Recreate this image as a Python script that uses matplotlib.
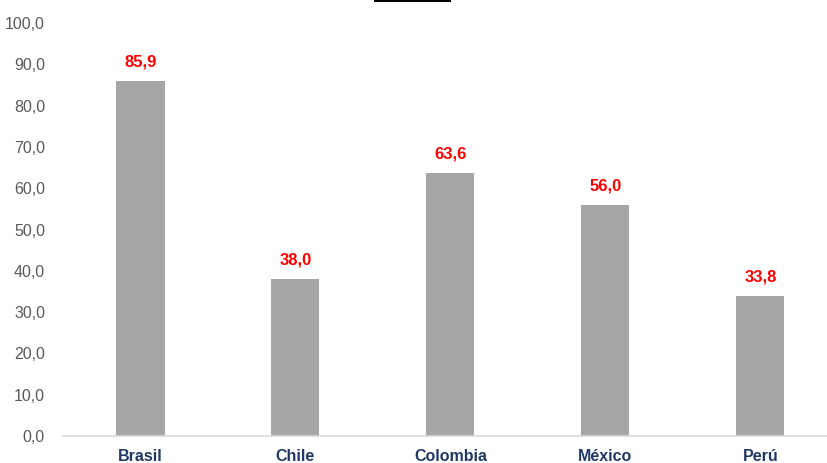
import matplotlib.pyplot as plt
from matplotlib.patches import Rectangle

countries = ["Brasil", "Chile", "Colombia", "México", "Perú"]
values = [85.9, 38.0, 63.6, 56.0, 33.8]
yticks = [0, 10, 20, 30, 40, 50, 60, 70, 80, 90, 100]

plt.rcParams["font.family"] = ["Liberation Sans Narrow", "Liberation Sans", "DejaVu Sans"]

fig = plt.figure(figsize=(8.27, 4.63), dpi=100)
ax = fig.add_axes([0.0762, 0.0583, 0.9238, 0.8917])

x = range(len(countries))
ax.bar(x, values, width=0.31, color="#A6A6A6")
for xi, v in zip(x, values):
    ax.text(xi, v + 2.8, f"{v:.1f}".replace(".", ","), ha="center", va="bottom",
            color="#FF0000", fontsize=12, fontweight="bold")

ax.set_xlim(-0.5, 4.43)
ax.set_ylim(0, 100)
ax.set_yticks(yticks)
ax.set_yticklabels([f"{t:.1f}".replace(".", ",") for t in yticks],
                   color="#595959", fontsize=11.5)
ax.set_xticks(list(x))
ax.set_xticklabels(countries, color="#1F3864", fontsize=11.5, fontweight="bold")
ax.tick_params(axis="both", length=0)
ax.tick_params(axis="x", pad=9)
ax.tick_params(axis="y", pad=13)
for side in ["top", "right", "left"]:
    ax.spines[side].set_visible(False)
ax.spines["bottom"].set_color("#D9D9D9")
ax.spines["bottom"].set_linewidth(1.2)

# short black rule at the very top (cropped title underline)
fig.add_artist(Rectangle((374 / 827, 1 - 2 / 463), 77 / 827, 2 / 463,
                         transform=fig.transFigure, color="black", lw=0))

fig.savefig("out.png", dpi=100)
